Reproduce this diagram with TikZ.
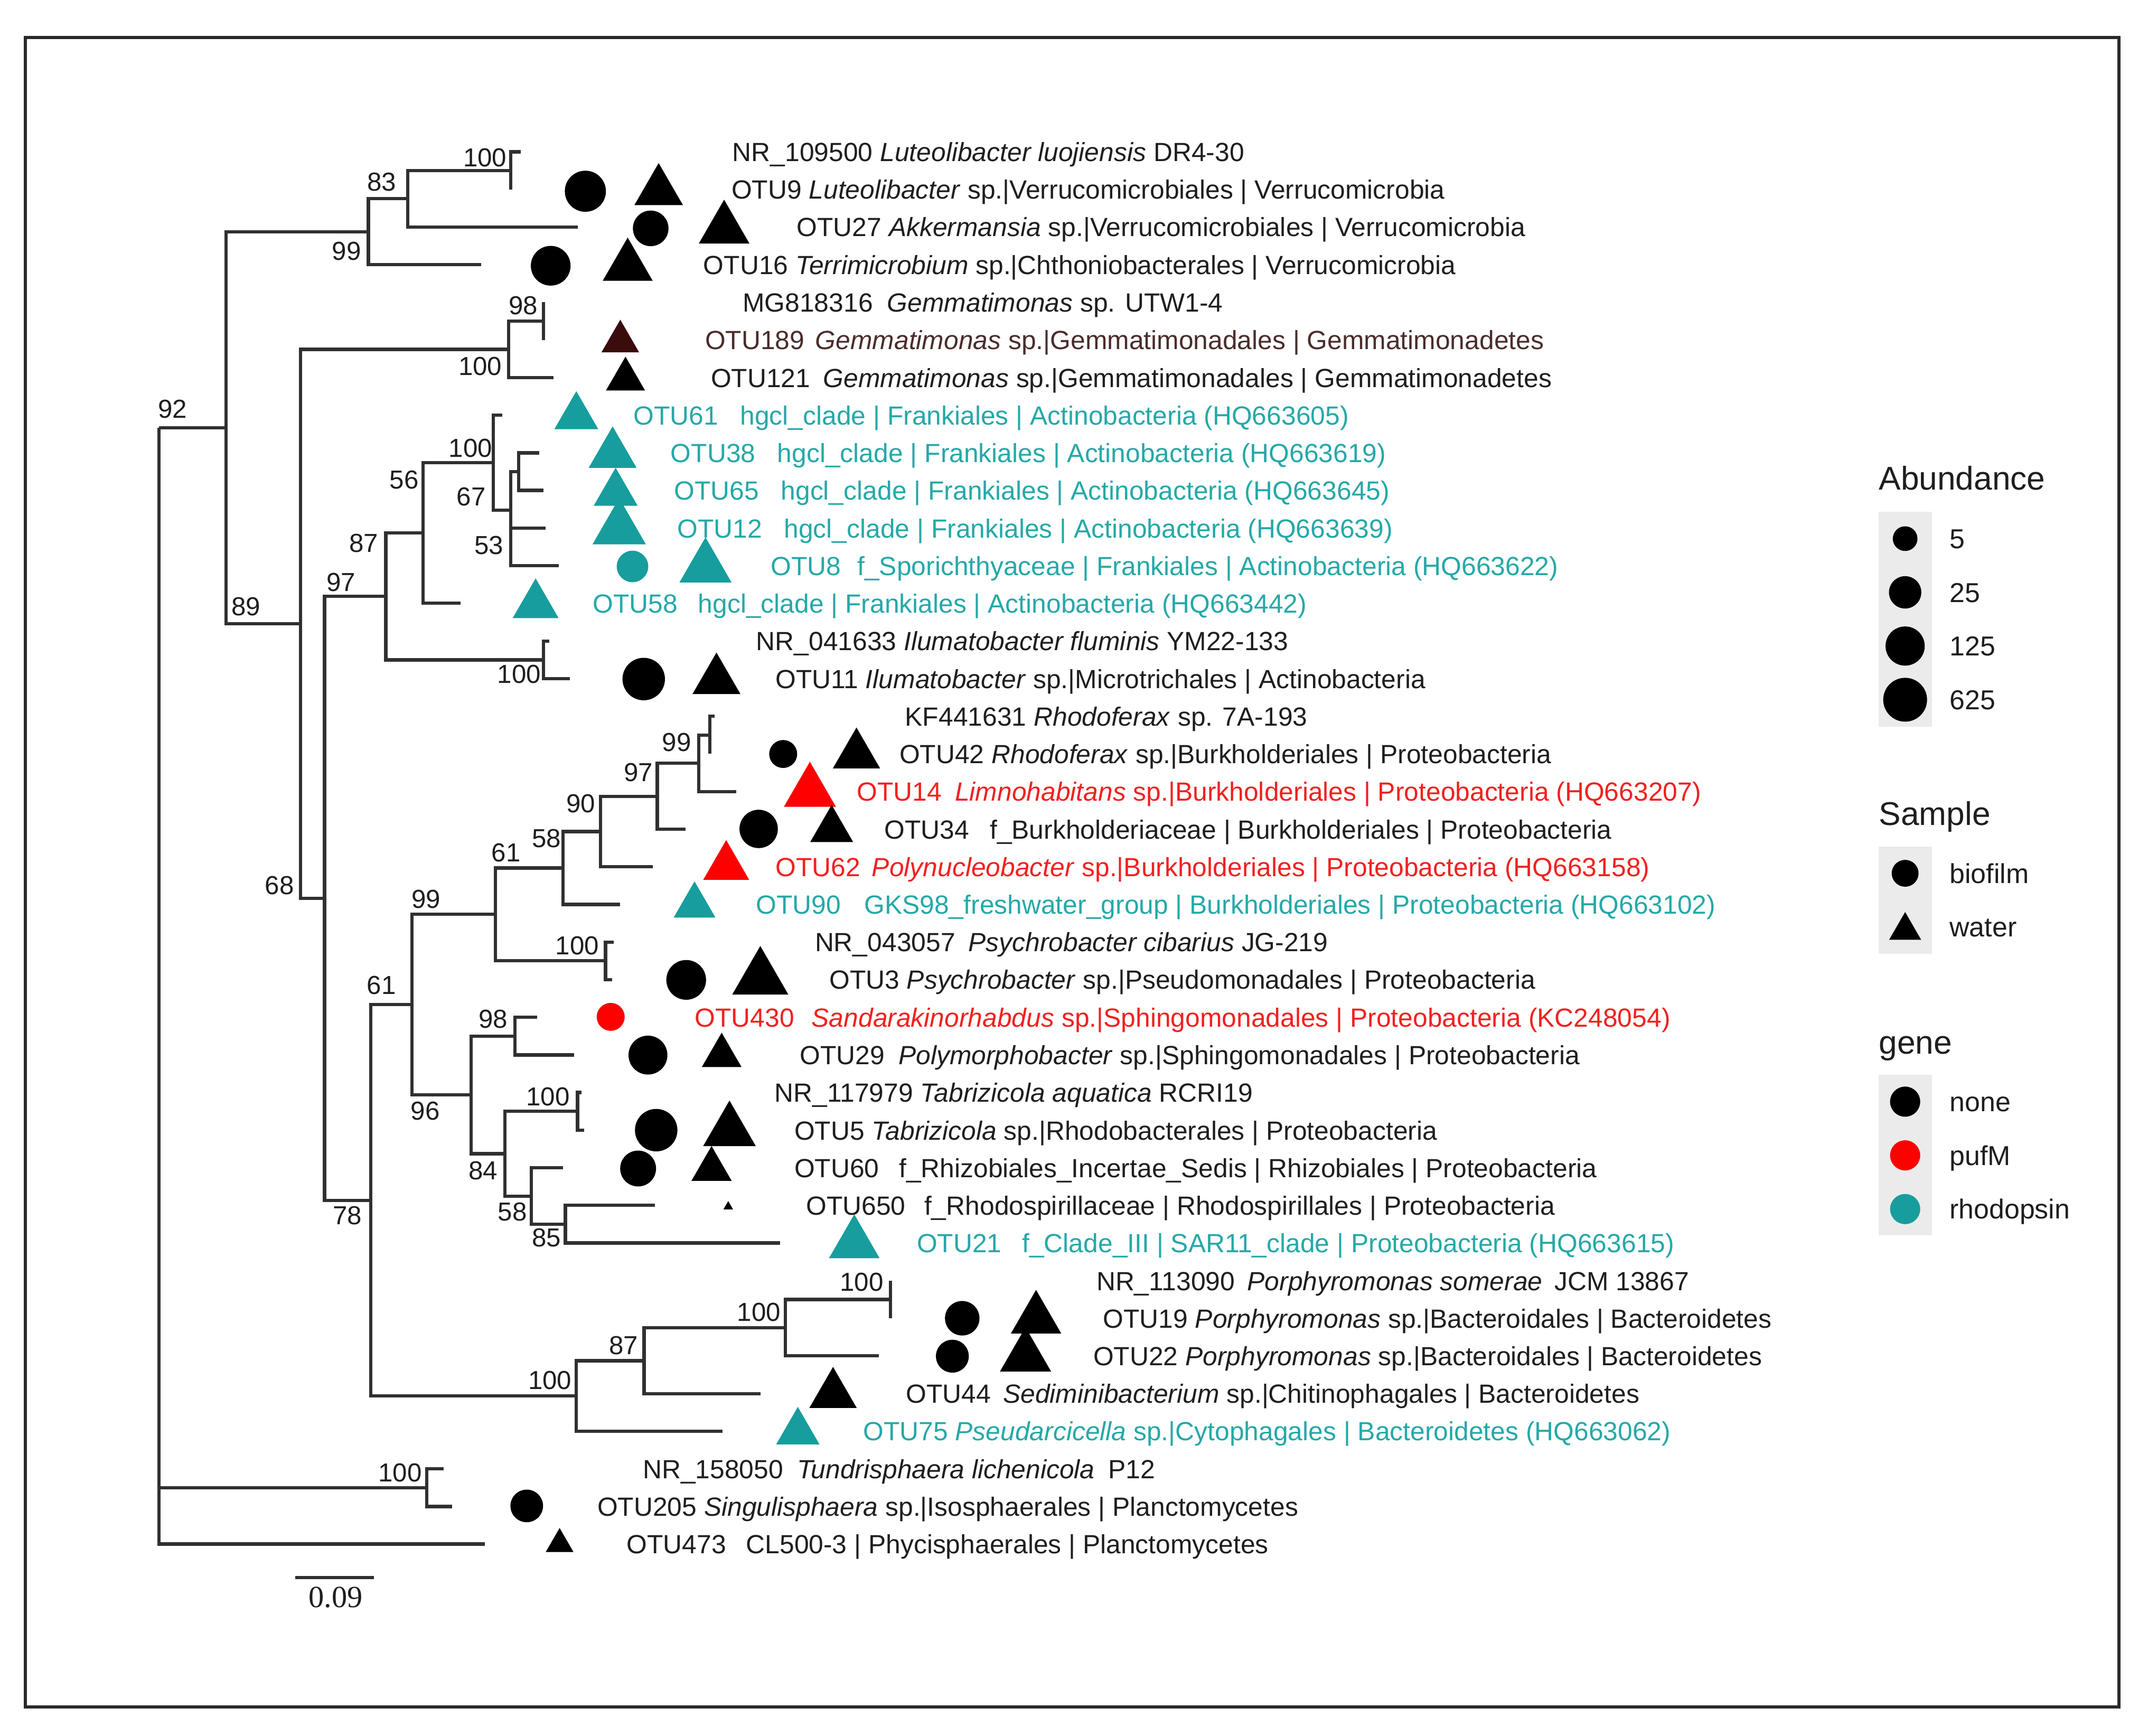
\documentclass[tikz,border=0pt]{standalone}
\usepackage{fontspec}
\setmainfont{Liberation Sans}
\newfontfamily\sbarfont{Liberation Serif}
\definecolor{txt}{HTML}{1E1E1E}
\definecolor{branch}{HTML}{303030}
\definecolor{framec}{HTML}{2A2A2A}
\definecolor{tealtxt}{HTML}{26A8A8}
\definecolor{tealmk}{HTML}{179D9D}
\definecolor{redtxt}{HTML}{F22020}
\definecolor{redmk}{HTML}{FF0000}
\definecolor{brntxt}{HTML}{4A2C2C}
\definecolor{brnmk}{HTML}{3A0D0D}
\definecolor{keybg}{HTML}{EBEBEB}
\newcommand{\tgap}[1]{\hspace*{#1pt}}
\newcommand{\dotmark}[4]{\fill[#4] (#1,#2) circle[radius=#3pt];}
\newcommand{\trimark}[4]{\fill[#4] (#1,#2) ++(0,{-0.433*#3}) -- ++({0.5*#3},{0.866*#3}) -- ++({-1*#3},0) -- cycle;}
\begin{document}
\begin{tikzpicture}[x=1pt,y=-1pt,
  br/.style={draw=branch,line width=2.4pt},
  lab/.style={anchor=base west,inner sep=0pt,font=\fontsize{19.2}{22}\selectfont,text=txt},
  bs/.style={anchor=center,inner sep=0pt,font=\fontsize{19}{21}\selectfont,text=txt},
  leg/.style={anchor=base west,inner sep=0pt,font=\fontsize{20}{22}\selectfont,text=txt},
  ttl/.style={anchor=base west,inner sep=0pt,font=\fontsize{24}{26}\selectfont,text=txt},
  keybox/.style={fill=keybg,draw=none}]
\useasboundingbox (0,0) rectangle (1568,1266.9);
\fill[white] (0,0) rectangle (1568,1266.9);
\draw[line width=2.4pt,draw=framec] (18.4,27.5) rectangle (1546.7,1246);

% ---------- tree coordinates ----------
\coordinate (R) at (116,312.3);
\coordinate (n92) at (165,312.3);
\coordinate (n99a) at (268.9,169.2);
\coordinate (n83) at (297.7,145.1);
\coordinate (n100a) at (372.8,124.5);
\coordinate (n89) at (219.4,455.4);
\coordinate (nGem) at (371.3,255.0);
\coordinate (n98a) at (396.7,234.4);
\coordinate (n68) at (236.9,655.8);
\coordinate (n97) at (281.6,435.4);
\coordinate (n87) at (308.8,389.1);
\coordinate (n100b) at (360,337.8);
\coordinate (n53) at (372.7,372.5);
\coordinate (n67) at (378.6,344.3);
\coordinate (nIlu) at (396.7,481.7);
\coordinate (n78) at (270.5,876.2);
\coordinate (n61a) at (300.8,733.4);
\coordinate (n99b) at (361.6,667.5);
\coordinate (n61b) at (411,633.6);
\coordinate (n90) at (438.3,607.0);
\coordinate (n97b) at (479.8,581.3);
\coordinate (n99c) at (510.2,557.2);
\coordinate (nRho) at (518.1,536.6);
\coordinate (nPsy) at (442,701.4);
\coordinate (n96) at (344,799.3);
\coordinate (n98b) at (375.9,756.4);
\coordinate (n84) at (368.6,842.2);
\coordinate (nTab) at (421.6,811.3);
\coordinate (n58b) at (387.8,873.1);
\coordinate (n85) at (412.7,893.7);
\coordinate (nBac) at (420.7,1019.0);
\coordinate (n87b) at (470.2,993.3);
\coordinate (n100c) at (573.3,969.2);
\coordinate (nPor) at (649.9,948.6);
\coordinate (nPl) at (311.6,1086.0);
% tips
\coordinate (t1) at (380,110.8);
\coordinate (t2) at (372.8,138.3);
\coordinate (t3) at (421.7,165.7);
\coordinate (t4) at (351.4,193.2);
\coordinate (t5) at (396.7,220.7);
\coordinate (t6) at (396.7,248.2);
\coordinate (t7) at (404,275.6);
\coordinate (t8) at (366.6,303.1);
\coordinate (t9) at (393.5,330.6);
\coordinate (t10) at (396.6,358.0);
\coordinate (t11) at (398.3,385.5);
\coordinate (t12) at (407.9,413.0);
\coordinate (t13) at (336,440.4);
\coordinate (t14) at (401,467.9);
\coordinate (t15) at (415.9,495.4);
\coordinate (t16) at (521.5,522.9);
\coordinate (t17) at (518.1,550.3);
\coordinate (t18) at (537.4,577.8);
\coordinate (t19) at (500.6,605.3);
\coordinate (t20) at (476.6,632.7);
\coordinate (t21) at (452.6,660.2);
\coordinate (t22) at (448,687.7);
\coordinate (t23) at (447,715.1);
\coordinate (t24) at (392,742.6);
\coordinate (t25) at (419,770.1);
\coordinate (t26) at (424.5,797.5);
\coordinate (t27) at (426.5,825.0);
\coordinate (t28) at (411.1,852.5);
\coordinate (t29) at (478.2,879.9);
\coordinate (t30) at (569.3,907.4);
\coordinate (t31) at (649.9,934.9);
\coordinate (t32) at (649.9,962.3);
\coordinate (t33) at (641.4,989.8);
\coordinate (t34) at (555,1017.3);
\coordinate (t35) at (527.3,1044.7);
\coordinate (t36) at (323.8,1072.2);
\coordinate (t37) at (330,1099.7);
\coordinate (t38) at (354,1127.1);

% ---------- branches ----------
\draw[br] (R) |- (n92);  \draw[br] (R) |- (nPl);  \draw[br] (R) |- (t38);
\draw[br] (n92) |- (n99a); \draw[br] (n92) |- (n89);
\draw[br] (n99a) |- (n83); \draw[br] (n99a) |- (t4);
\draw[br] (n83) |- (n100a); \draw[br] (n83) |- (t3);
\draw[br] (n100a) |- (t1); \draw[br] (n100a) |- (t2);
\draw[br] (n89) |- (nGem); \draw[br] (n89) |- (n68);
\draw[br] (nGem) |- (n98a); \draw[br] (nGem) |- (t7);
\draw[br] (n98a) |- (t5); \draw[br] (n98a) |- (t6);
\draw[br] (n68) |- (n97); \draw[br] (n68) |- (n78);
\draw[br] (n97) |- (n87); \draw[br] (n97) |- (nIlu);
\draw[br] (n87) |- (n100b); \draw[br] (n87) |- (t13);
\draw[br] (n100b) |- (t8); \draw[br] (n100b) |- (n53);
\draw[br] (n53) |- (n67); \draw[br] (n53) |- (t11); \draw[br] (n53) |- (t12);
\draw[br] (n67) |- (t9); \draw[br] (n67) |- (t10);
\draw[br] (nIlu) |- (t14); \draw[br] (nIlu) |- (t15);
\draw[br] (n78) |- (n61a); \draw[br] (n78) |- (nBac);
\draw[br] (n61a) |- (n99b); \draw[br] (n61a) |- (n96);
\draw[br] (n99b) |- (n61b); \draw[br] (n99b) |- (nPsy);
\draw[br] (n61b) |- (n90); \draw[br] (n61b) |- (t21);
\draw[br] (n90) |- (n97b); \draw[br] (n90) |- (t20);
\draw[br] (n97b) |- (n99c); \draw[br] (n97b) |- (t19);
\draw[br] (n99c) |- (nRho); \draw[br] (n99c) |- (t18);
\draw[br] (nRho) |- (t16); \draw[br] (nRho) |- (t17);
\draw[br] (nPsy) |- (t22); \draw[br] (nPsy) |- (t23);
\draw[br] (n96) |- (n98b); \draw[br] (n96) |- (n84);
\draw[br] (n98b) |- (t24); \draw[br] (n98b) |- (t25);
\draw[br] (n84) |- (nTab); \draw[br] (n84) |- (n58b);
\draw[br] (nTab) |- (t26); \draw[br] (nTab) |- (t27);
\draw[br] (n58b) |- (t28); \draw[br] (n58b) |- (n85);
\draw[br] (n85) |- (t29); \draw[br] (n85) |- (t30);
\draw[br] (nBac) |- (n87b); \draw[br] (nBac) |- (t35);
\draw[br] (n87b) |- (n100c); \draw[br] (n87b) |- (t34);
\draw[br] (n100c) |- (nPor); \draw[br] (n100c) |- (t33);
\draw[br] (nPor) |- (t31); \draw[br] (nPor) |- (t32);
\draw[br] (nPl) |- (t36); \draw[br] (nPl) |- (t37);

% ---------- bootstrap values ----------
\node[bs] (b1) at (354,115.2) {100};
\node[bs] (b2) at (278.7,132.9) {83};
\node[bs] (b3) at (253,183.3) {99};
\node[bs] (b4) at (382,223.1) {98};
\node[bs] (b5) at (350.5,267.3) {100};
\node[bs] (b6) at (126,298.8) {92};
\node[bs] (b7) at (343.5,327.1) {100};
\node[bs] (b8) at (295,350.4) {56};
\node[bs] (b9) at (344,362.5) {67};
\node[bs] (b10) at (357,398) {53};
\node[bs] (b11) at (265.6,396.6) {87};
\node[bs] (b12) at (249,425) {97};
\node[bs] (b13) at (179.5,442.7) {89};
\node[bs] (b14) at (379,492) {100};
\node[bs] (b15) at (494,542) {99};
\node[bs] (b16) at (466,564) {97};
\node[bs] (b17) at (424,586.7) {90};
\node[bs] (b18) at (399,612) {58};
\node[bs] (b19) at (369.5,622.4) {61};
\node[bs] (b20) at (311,656.5) {99};
\node[bs] (b21) at (421.4,690.4) {100};
\node[bs] (b22) at (204,646.5) {68};
\node[bs] (b23) at (278.5,719.4) {61};
\node[bs] (b24) at (360,744) {98};
\node[bs] (b25) at (310.4,811) {96};
\node[bs] (b26) at (400,800.7) {100};
\node[bs] (b27) at (352.7,854.7) {84};
\node[bs] (b28) at (374,884.7) {58};
\node[bs] (b29) at (399,903.5) {85};
\node[bs] (b30) at (253.5,887.5) {78};
\node[bs] (b31) at (401.4,1007.5) {100};
\node[bs] (b32) at (455.3,982) {87};
\node[bs] (b33) at (554,958) {100};
\node[bs] (b34) at (629,935.8) {100};
\node[bs] (b35) at (292,1075) {100};

% scale bar
\coordinate (sb1) at (215.7,1151.5);
\coordinate (sb2) at (272.9,1151.5);
\draw[br] (sb1) -- (sb2);
\node[anchor=center,inner sep=0pt,font=\sbarfont\fontsize{22.5}{24}\selectfont,text=txt] (sbl) at (245,1166) {0.09};

% ---------- markers ----------
\dotmark{427.3}{139.6}{15}{black}
\dotmark{475}{166.7}{13}{black}
\dotmark{402}{194}{14.5}{black}
\dotmark{461.7}{413.5}{11.5}{tealmk}
\dotmark{469.9}{495.7}{15.5}{black}
\dotmark{571.7}{550.4}{10.2}{black}
\dotmark{553.8}{605.1}{14}{black}
\dotmark{500.9}{715.3}{14.5}{black}
\dotmark{445.8}{742.3}{10.2}{redmk}
\dotmark{473}{770.2}{14.2}{black}
\dotmark{479}{825}{15.5}{black}
\dotmark{465.8}{853}{13.1}{black}
\dotmark{702.4}{962.3}{12.6}{black}
\dotmark{695.2}{990}{12}{black}
\dotmark{384.5}{1099.3}{11.9}{black}

\trimark{480.8}{134.4}{35.5}{black}
\trimark{528.6}{161.8}{37}{black}
\trimark{458.2}{189.2}{36.5}{black}
\trimark{452.8}{245.3}{27.5}{brnmk}
\trimark{456.6}{272.7}{28.5}{black}
\trimark{420.7}{299.4}{32}{tealmk}
\trimark{447.2}{326.4}{35}{tealmk}
\trimark{449.4}{355.3}{32}{tealmk}
\trimark{452}{380.5}{39}{tealmk}
\trimark{515}{408.7}{38}{tealmk}
\trimark{391}{436.7}{33.5}{tealmk}
\trimark{523}{491.5}{35}{black}
\trimark{625.2}{546}{34.5}{black}
\trimark{591.2}{572.5}{38}{redmk}
\trimark{607.1}{601.1}{31.3}{black}
\trimark{530.1}{627.7}{33.5}{redmk}
\trimark{507}{656.6}{30.5}{tealmk}
\trimark{555}{708.3}{41}{black}
\trimark{526.8}{766.4}{29}{black}
\trimark{532.5}{820}{38.4}{black}
\trimark{519.4}{849.3}{29.4}{black}
\trimark{531.6}{879.8}{7}{black}
\trimark{623.6}{902.5}{37}{tealmk}
\trimark{756.3}{957.5}{36.7}{black}
\trimark{748.6}{985}{37.3}{black}
\trimark{608.1}{1012.8}{34.6}{black}
\trimark{582.4}{1040.7}{31.6}{tealmk}
\trimark{408.5}{1124.2}{20.3}{black}

% ---------- tip labels ----------
\node[lab] (L1) at (534.5,117.8) {NR\_109500 \textit{Luteolibacter luojiensis} DR4-30};
\node[lab] (L2) at (533.8,145.3) {OTU9 \textit{Luteolibacter} sp.|Verrucomicrobiales | Verrucomicrobia};
\node[lab] (L3) at (581.5,172.7) {OTU27 \textit{Akkermansia} sp.|Verrucomicrobiales | Verrucomicrobia};
\node[lab] (L4) at (513.3,200.2) {OTU16 \textit{Terrimicrobium} sp.|Chthoniobacterales | Verrucomicrobia};
\node[lab] (L5) at (542,227.7) {MG818316\tgap{10.5}\textit{Gemmatimonas} sp. UTW1-4};
\node[lab,text=brntxt] (L6) at (514.5,255.2) {OTU189\tgap{8}\textit{Gemmatimonas} sp.|Gemmatimonadales | Gemmatimonadetes};
\node[lab] (L7) at (518.8,282.6) {OTU121\tgap{9.4}\textit{Gemmatimonas} sp.|Gemmatimonadales | Gemmatimonadetes};
\node[lab,text=tealtxt] (L8) at (462.2,310.1) {OTU61\tgap{16}hgcl\_clade | Frankiales | Actinobacteria (HQ663605)};
\node[lab,text=tealtxt] (L9) at (489.4,337.6) {OTU38\tgap{16}hgcl\_clade | Frankiales | Actinobacteria (HQ663619)};
\node[lab,text=tealtxt] (L10) at (492,365.0) {OTU65\tgap{16}hgcl\_clade | Frankiales | Actinobacteria (HQ663645)};
\node[lab,text=tealtxt] (L11) at (494.2,392.5) {OTU12\tgap{16}hgcl\_clade | Frankiales | Actinobacteria (HQ663639)};
\node[lab,text=tealtxt] (L12) at (562.5,420.0) {OTU8\tgap{12}f\_Sporichthyaceae | Frankiales | Actinobacteria (HQ663622)};
\node[lab,text=tealtxt] (L13) at (432.5,447.4) {OTU58\tgap{15}hgcl\_clade | Frankiales | Actinobacteria (HQ663442)};
\node[lab] (L14) at (551.8,474.9) {NR\_041633 \textit{Ilumatobacter fluminis} YM22-133};
\node[lab] (L15) at (565.9,502.4) {OTU11 \textit{Ilumatobacter} sp.|Microtrichales | Actinobacteria};
\node[lab] (L16) at (660.5,529.9) {KF441631 \textit{Rhodoferax} sp. 7A-193};
\node[lab] (L17) at (656.4,557.3) {OTU42 \textit{Rhodoferax} sp.|Burkholderiales | Proteobacteria};
\node[lab,text=redtxt] (L18) at (625.4,584.8) {OTU14\tgap{9.6}\textit{Limnohabitans} sp.|Burkholderiales | Proteobacteria (HQ663207)};
\node[lab] (L19) at (645.5,612.3) {OTU34\tgap{15}f\_Burkholderiaceae | Burkholderiales | Proteobacteria};
\node[lab,text=redtxt] (L20) at (565.9,639.7) {OTU62\tgap{8.5}\textit{Polynucleobacter} sp.|Burkholderiales | Proteobacteria (HQ663158)};
\node[lab,text=tealtxt] (L21) at (551.8,667.2) {OTU90\tgap{17}GKS98\_freshwater\_group | Burkholderiales | Proteobacteria (HQ663102)};
\node[lab] (L22) at (594.7,694.7) {NR\_043057\tgap{9.5}\textit{Psychrobacter cibarius} JG-219};
\node[lab] (L23) at (605.2,722.1) {OTU3 \textit{Psychrobacter} sp.|Pseudomonadales | Proteobacteria};
\node[lab,text=redtxt] (L24) at (507,749.6) {OTU430\tgap{12.7}\textit{Sandarakinorhabdus} sp.|Sphingomonadales | Proteobacteria (KC248054)};
\node[lab] (L25) at (583.8,777.1) {OTU29\tgap{10}\textit{Polymorphobacter} sp.|Sphingomonadales | Proteobacteria};
\node[lab] (L26) at (565.3,804.5) {NR\_117979 \textit{Tabrizicola aquatica} RCRI19};
\node[lab] (L27) at (579.7,832.0) {OTU5 \textit{Tabrizicola} sp.|Rhodobacterales | Proteobacteria};
\node[lab] (L28) at (579.7,859.5) {OTU60\tgap{14.5}f\_Rhizobiales\_Incertae\_Sedis | Rhizobiales | Proteobacteria};
\node[lab] (L29) at (588.3,886.9) {OTU650\tgap{13.7}f\_Rhodospirillaceae | Rhodospirillales | Proteobacteria};
\node[lab,text=tealtxt] (L30) at (669.1,914.4) {OTU21\tgap{15}f\_Clade\_III | SAR11\_clade | Proteobacteria (HQ663615)};
\node[lab] (L31) at (800.2,941.9) {NR\_113090\tgap{9}\textit{Porphyromonas somerae}\tgap{8.7}JCM 13867};
\node[lab] (L32) at (805,969.3) {OTU19 \textit{Porphyromonas} sp.|Bacteroidales | Bacteroidetes};
\node[lab] (L33) at (797.9,996.8) {OTU22 \textit{Porphyromonas} sp.|Bacteroidales | Bacteroidetes};
\node[lab] (L34) at (661.1,1024.3) {OTU44\tgap{9}\textit{Sediminibacterium} sp.|Chitinophagales | Bacteroidetes};
\node[lab,text=tealtxt] (L35) at (629.9,1051.7) {OTU75 \textit{Pseudarcicella} sp.|Cytophagales | Bacteroidetes (HQ663062)};
\node[lab] (L36) at (469.1,1079.2) {NR\_158050\tgap{10}\textit{Tundrisphaera lichenicola}\tgap{10}P12};
\node[lab] (L37) at (435.9,1106.7) {OTU205 \textit{Singulisphaera} sp.|Isosphaerales | Planctomycetes};
\node[lab] (L38) at (457.3,1134.1) {OTU473\tgap{14.6}CL500-3 | Phycisphaerales | Planctomycetes};

% ---------- legend ----------
\node[ttl] (gA) at (1371.4,357.7) {Abundance};
\fill[keybg] (1371.3,373.6) rectangle (1410.2,530.4);
\dotmark{1390.7}{393.2}{9}{black}
\dotmark{1390.7}{432.4}{11.8}{black}
\dotmark{1390.7}{471.6}{14.3}{black}
\dotmark{1390.7}{510.8}{16}{black}
\node[leg] (a1) at (1423,400.4) {5};
\node[leg] (a2) at (1423,439.6) {25};
\node[leg] (a3) at (1423,478.8) {125};
\node[leg] (a4) at (1423,518.0) {625};

\node[ttl] (gS) at (1371.4,602.3) {Sample};
\fill[keybg] (1371.3,617.9) rectangle (1410.2,696.4);
\dotmark{1390.7}{637.5}{9.8}{black}
\trimark{1390.7}{675.9}{23.4}{black}
\node[leg] (s1) at (1423,644.7) {biofilm};
\node[leg] (s2) at (1423,683.9) {water};

\node[ttl] (gG) at (1371.4,769.2) {gene};
\fill[keybg] (1371.3,784.6) rectangle (1410.2,901.9);
\dotmark{1390.7}{804.2}{11}{black}
\dotmark{1390.7}{843.4}{11}{redmk}
\dotmark{1390.7}{882.6}{11}{tealmk}
\node[leg] (g1) at (1423,811.4) {none};
\node[leg] (g2) at (1423,850.6) {pufM};
\node[leg] (g3) at (1423,889.8) {rhodopsin};
\end{tikzpicture}
\end{document}
